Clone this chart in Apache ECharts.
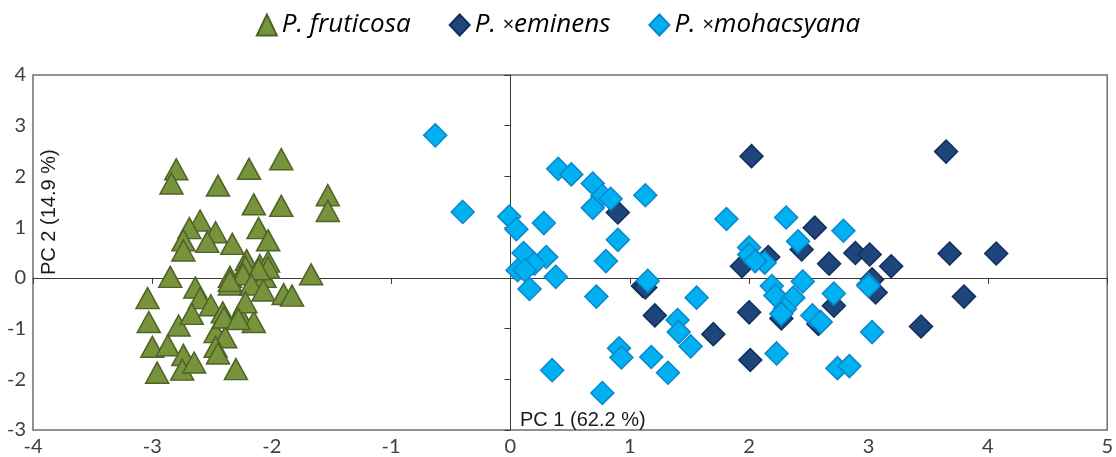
<!DOCTYPE html>
<html>
<head>
<meta charset="utf-8">
<script src="https://cdn.jsdelivr.net/npm/echarts@6/dist/echarts.min.js"></script>
<style>html,body{margin:0;padding:0;background:#fff}#c{width:1116px;height:457px}</style>
</head>
<body>
<div id="c"></div>
<script>
const seriesNames = ['P. fruticosa', 'P. ×eminens', 'P. ×mohacsyana'];
const xTicks = { min: -4, max: 5, step: 1 };
const yTicks = { min: -3, max: 4, step: 1 };
const axisNames = { x: 'PC 1 (62.2 %)', y: 'PC 2 (14.9 %)' };

const fruticosa = [
  [-2.80,2.14],[-2.84,1.86],[-2.45,1.82],[-2.19,2.15],[-1.92,2.34],[-2.15,1.45],[-1.92,1.42],[-1.53,1.63],[-1.53,1.32],
  [-2.60,1.13],[-2.69,0.98],[-2.47,0.90],[-2.11,0.98],[-2.74,0.74],[-2.54,0.71],[-2.74,0.54],[-2.33,0.67],[-2.03,0.74],
  [-2.21,0.35],[-2.10,0.25],[-2.03,0.32],[-2.06,0.02],[-2.85,0.02],[-1.67,0.07],[-2.35,0.02],[-2.22,0.22],[-2.03,0.20],[-2.11,0.17],
  [-3.04,-0.40],[-3.03,-0.87],[-3.00,-1.36],[-2.96,-1.87],[-2.78,-0.94],[-2.87,-1.33],[-2.74,-1.52],[-2.75,-1.81],[-2.65,-1.67],
  [-2.64,-0.19],[-2.60,-0.40],[-2.51,-0.54],[-2.67,-0.71],[-2.41,-0.68],[-2.27,-0.71],[-2.15,-0.87],[-2.47,-1.07],[-2.39,-1.17],
  [-2.47,-1.36],[-2.45,-1.49],[-2.30,-1.80],[-2.35,-0.13],[-2.24,0.07],[-2.17,-0.13],[-2.07,-0.25],[-1.90,-0.32],[-1.83,-0.35],
  [-2.22,-0.48],[-2.40,-0.78],[-2.28,-0.81],[-2.35,-0.06]
];

const eminens = [
  [0.90,1.29],[1.11,-0.16],[1.21,-0.74],[1.70,-1.11],[2.02,2.40],[2.00,-0.68],[2.01,-1.62],[1.94,0.23],[2.55,0.99],
  [2.44,0.56],[2.67,0.28],[2.89,0.49],[3.01,0.46],[2.16,0.41],[2.71,-0.55],[2.58,-0.91],[3.03,-0.03],[3.06,-0.29],
  [3.65,2.49],[3.68,0.48],[4.07,0.48],[3.19,0.23],[3.80,-0.37],[3.44,-0.96],[1.13,-0.19],[2.27,-0.80]
];

const mohacsyana = [
  [-0.63,2.81],[-0.40,1.30],[-0.01,1.21],[0.05,0.96],[0.28,1.08],[0.40,2.15],[0.51,2.04],[0.69,1.86],[0.77,1.62],
  [0.84,1.56],[0.69,1.38],[0.90,0.75],[0.80,0.33],[0.11,0.49],[0.30,0.41],[0.20,0.28],[0.06,0.15],[0.12,0.15],
  [0.38,0.02],[0.16,-0.22],[0.72,-0.37],[0.91,-1.39],[0.93,-1.57],[0.35,-1.82],[0.77,-2.27],[1.13,1.63],[1.15,-0.06],
  [1.81,1.16],[2.31,1.19],[2.79,0.93],[2.41,0.72],[2.00,0.60],[2.00,0.46],[2.13,0.30],[2.05,0.33],[1.56,-0.39],
  [2.19,-0.16],[2.45,-0.07],[2.22,-0.35],[2.37,-0.39],[2.30,-0.61],[2.27,-0.71],[2.71,-0.31],[2.53,-0.74],[2.60,-0.87],
  [3.00,-0.13],[3.03,-1.07],[1.40,-0.83],[1.41,-1.07],[1.51,-1.35],[1.18,-1.56],[1.32,-1.87],[2.23,-1.49],[2.74,-1.78],
  [2.84,-1.74],[3.00,-0.16]
];

const labelFont = 'Lato, "Open Sans", sans-serif';
const legendFont = '"Open Sans", Lato, sans-serif';
const chart = echarts.init(document.getElementById('c'), null, { renderer: 'canvas' });

function legendFmt(name) {
  const p = name.split('×');
  return p.length > 1 ? '{i|' + p[0] + '}{x|×}{i|' + p[1] + '}' : '{i|' + name + '}';
}

const gridBox = { left: 33, right: 8, top: 75, bottom: 23 };

chart.setOption({
  animation: false,
  backgroundColor: '#ffffff',
  legend: {
    top: 7,
    left: 'center',
    itemWidth: 20,
    itemHeight: 21,
    itemGap: 38,
    data: seriesNames,
    formatter: legendFmt,
    textStyle: {
      color: '#000',
      rich: {
        i: { fontStyle: 'italic', fontSize: 26, fontFamily: legendFont, color: '#000' },
        x: { fontStyle: 'normal', fontSize: 20, fontFamily: legendFont, color: '#000' }
      }
    }
  },
  grid: Object.assign({ show: true, borderColor: '#6e6e6e', borderWidth: 1.5, backgroundColor: '#fff' }, gridBox),
  xAxis: [
    {
      type: 'value', min: xTicks.min, max: xTicks.max, interval: xTicks.step, position: 'bottom',
      axisLine: { show: false, onZero: false },
      axisTick: { show: false },
      splitLine: { show: false },
      axisLabel: { color: '#404040', fontSize: 20, fontFamily: labelFont, margin: 7 }
    },
    {
      type: 'value', min: xTicks.min, max: xTicks.max, interval: xTicks.step, position: 'top',
      axisLine: { show: true, onZero: true, lineStyle: { color: '#3a3a3a', width: 1 } },
      axisTick: { show: true, inside: true, length: 6, lineStyle: { color: '#3a3a3a' } },
      splitLine: { show: false },
      axisLabel: { show: false }
    }
  ],
  yAxis: [
    {
      type: 'value', min: yTicks.min, max: yTicks.max, interval: yTicks.step, position: 'left',
      axisLine: { show: false, onZero: false },
      axisTick: { show: false },
      splitLine: { show: false },
      axisLabel: { color: '#404040', fontSize: 20, fontFamily: labelFont, margin: 7 }
    },
    {
      type: 'value', min: yTicks.min, max: yTicks.max, interval: yTicks.step, position: 'right',
      axisLine: { show: true, onZero: true, lineStyle: { color: '#3a3a3a', width: 1 } },
      axisTick: { show: true, inside: true, length: 6, lineStyle: { color: '#3a3a3a' } },
      splitLine: { show: false },
      axisLabel: { show: false }
    }
  ],
  graphic: [
    {
      type: 'text', left: 520, top: 410,
      style: { text: axisNames.x, font: '20px "Liberation Sans", Arial, sans-serif', fill: '#1a1a1a' }
    },
    {
      type: 'text', x: 39, y: 275, rotation: Math.PI / 2,
      style: { text: axisNames.y, font: '20px "Liberation Sans", Arial, sans-serif', fill: '#1a1a1a' }
    }
  ],
  series: [
    {
      name: seriesNames[0], type: 'scatter', symbol: 'triangle', symbolSize: [23, 21],
      data: fruticosa,
      itemStyle: { color: '#77933c', borderColor: '#4f6228', borderWidth: 1.5, opacity: 1 }
    },
    {
      name: seriesNames[1], type: 'scatter', symbol: 'diamond', symbolSize: [23, 23],
      data: eminens,
      itemStyle: { color: '#1f467c', borderColor: '#102f5c', borderWidth: 1.5, opacity: 1 }
    },
    {
      name: seriesNames[2], type: 'scatter', symbol: 'diamond', symbolSize: [23, 23],
      data: mohacsyana,
      itemStyle: { color: '#00b0f0', borderColor: '#0a88cc', borderWidth: 1.5, opacity: 1 }
    }
  ]
});
</script>
</body>
</html>
